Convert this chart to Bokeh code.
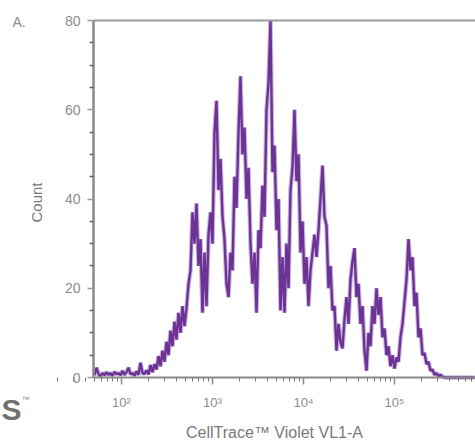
from bokeh.plotting import figure
from bokeh.models import FixedTicker, Range1d, Label, LogAxis
from bokeh.embed import file_html
from bokeh.resources import INLINE
import math

# ---- data ----
# histogram counts, one per channel bin (bins equally spaced in log10 of fluorescence)
first_bin_center = 50.5          # fluorescence at first bin centre
bins_per_decade = 45.5
counts = [
    0.5, 2.2, 0.8, 0.3, 1.0, 0.5, 1.2, 0.6, 1.0, 0.4,
    1.3, 0.7, 1.0, 0.5, 1.5, 0.6, 1.2, 2.2, 0.7, 1.0,
    0.4, 1.4, 0.6, 3.3, 1.0, 0.8, 1.6, 0.7, 2.8, 1.2,
    3.0, 1.8, 4.8, 2.5, 6.0, 3.5, 8.0, 5.0, 10.5, 7.0,
    12.5, 8.5, 14.5, 10.0, 16.0, 11.5, 15.5, 21.0, 24.0, 37.0,
    30.0, 39.0, 25.0, 31.0, 14.5, 28.0, 16.0, 32.0, 37.0, 30.0,
    55.0, 62.0, 42.0, 49.0, 36.0, 31.0, 21.0, 18.0, 28.0, 24.0,
    45.0, 38.0, 55.0, 67.5, 50.0, 56.0, 40.0, 47.0, 30.0, 21.0,
    28.0, 14.5, 33.0, 29.0, 43.0, 36.0, 60.0, 66.0, 80.0, 46.0,
    52.0, 33.0, 40.0, 15.0, 27.0, 14.5, 30.0, 20.0, 42.0, 47.0,
    60.0, 44.0, 50.0, 28.0, 35.0, 21.0, 27.0, 16.0, 24.0, 28.0,
    32.0, 27.0, 33.0, 40.0, 47.5, 36.0, 34.0, 20.0, 25.0, 15.0,
    16.0, 6.0, 12.0, 8.0, 6.5, 13.0, 18.0, 12.0, 22.0, 26.0,
    29.0, 18.0, 21.0, 12.0, 16.0, 6.0, 1.5, 10.0, 7.0, 16.0,
    12.0, 20.0, 14.0, 18.0, 9.0, 11.0, 5.0, 7.0, 2.5, 5.0,
    2.0, 4.5, 3.5, 9.0, 12.0, 17.0, 22.0, 31.0, 24.0, 27.0,
    16.0, 19.0, 9.0, 11.0, 5.0, 5.5, 3.0, 3.5, 1.5, 1.8,
    0.6, 1.0, 0.3, 0.6, 0.2, 0.0, 0.0, 0.0, 0.0, 0.0,
    0.0, 0.0, 0.0, 0.0, 0.0, 0.0, 0.0, 0.0, 0.0, 0.0,
    0.0,
]
x_major = [1e2, 1e3, 1e4, 1e5]
x_major_labels = ["10²", "10³", "10⁴", "10⁵"]
y_major = [0, 20, 40, 60, 80]
y_minor = [5, 10, 15, 25, 30, 35, 45, 50, 55, 65, 70, 75]
x_axis_start = 10 ** 1.6923      # left end of the plotted axis
x_axis_end = 10 ** 5.89
x_title = "CellTrace™ Violet VL1-A"
y_title = "Count"
panel_tag = "A."
logo_text = "S"
logo_mark = "™"

fluor = [10 ** (math.log10(first_bin_center) + i / bins_per_decade) for i in range(len(counts))]
x_minor = [k * 10 ** d for d in range(1, 6) for k in range(2, 10)]

FONT = "'Liberation Sans', sans-serif"

# The frame fills the whole canvas; axes are pinned at fixed locations so that
# every text (also the ones left of / below the axes) can be drawn as a Label.
W, H = 475, 444
AX_L, AX_T, AX_B = 93, 20, 377          # pixel positions of the axes
px_per_decade = 91.0
px_per_count = (AX_B - AX_T) / 80.0
xlo = 10 ** (2 - (121 - 0) / px_per_decade)
xhi = 10 ** (2 + (W - 121) / px_per_decade)
ylo = -(H - AX_B) / px_per_count
yhi = 80 + AX_T / px_per_count

p = figure(width=W, height=H, x_axis_type="log",
           x_range=Range1d(xlo, xhi), y_range=Range1d(ylo, yhi),
           output_backend="svg", toolbar_location=None,
           min_border_left=0, min_border_right=0, min_border_top=0, min_border_bottom=0)
p.grid.visible = False
p.outline_line_color = None
p.background_fill_color = "white"
p.border_fill_color = "white"

# histogram trace
p.line(fluor, counts, line_color="#c4b1dc", line_width=4.6, line_alpha=0.9)
p.line(fluor, counts, line_color="#6c3294", line_width=2.4)

# x axis
xa = p.xaxis[0]
xa.fixed_location = y_major[0]
xa.bounds = (x_axis_start, x_axis_end)
xa.ticker = FixedTicker(ticks=x_major, minor_ticks=x_minor)
xa.major_label_overrides = {float(v): l for v, l in zip(x_major, x_major_labels)}
xa.axis_line_color = "#8a8a8a"
xa.axis_line_width = 2
xa.major_tick_line_color = "#8a8a8a"
xa.major_tick_line_width = 1.5
xa.major_tick_out = 7
xa.major_tick_in = 0
xa.minor_tick_line_color = "#777777"
xa.minor_tick_out = 4
xa.minor_tick_in = 0
xa.major_label_standoff = 10
xa.major_label_text_font = FONT
xa.major_label_text_font_size = "13px"
xa.major_label_text_color = "#8c8c8c"

# y axis
ya = p.yaxis[0]
ya.fixed_location = x_axis_start
ya.bounds = (y_major[0], y_major[-1])
ya.ticker = FixedTicker(ticks=y_major, minor_ticks=y_minor)
ya.axis_line_color = "#8a8a8a"
ya.axis_line_width = 2.5
ya.major_tick_line_color = "#9a9a9a"
ya.major_tick_line_width = 1.5
ya.major_tick_out = 6
ya.major_tick_in = 0
ya.minor_tick_line_color = "#666666"
ya.minor_tick_line_width = 1.5
ya.minor_tick_out = 4
ya.minor_tick_in = 0
ya.major_label_standoff = 7
ya.major_label_text_font = FONT
ya.major_label_text_font_size = "14px"
ya.major_label_text_color = "#8c8c8c"

# top frame line
top = LogAxis(ticker=FixedTicker(ticks=[], minor_ticks=[]), fixed_location=y_major[-1],
              bounds=(x_axis_start, x_axis_end))
top.axis_line_color = "#9a9a9a"
top.axis_line_width = 2
top.major_tick_line_color = None
top.minor_tick_line_color = None
top.major_tick_out = 0
top.major_label_standoff = 0
top.major_label_text_font_size = "0px"
p.add_layout(top, "above")

# texts (screen units: from the canvas' left and bottom)
def lab(text, x, y, **kw):
    base = dict(x_units="screen", y_units="screen", text_font=FONT)
    base.update(kw)
    p.add_layout(Label(x=x, y=y, text=text, **base))

lab(x_title, 274, H - 432, text_align="center", text_baseline="middle",
    text_font_size="16px", text_color="#7a7a7a")
lab(y_title, 36, H - 202, angle=math.pi / 2, text_align="center", text_baseline="middle",
    text_font_size="15px", text_color="#7a7a7a")
lab(panel_tag, 12, H - 13, text_align="left", text_baseline="top",
    text_font_size="14px", text_color="#8a8a8a")
lab(logo_text, 1, H - 392, text_align="left", text_baseline="top",
    text_font_style="bold", text_font_size="30px", text_color="#555555", text_alpha=0.85)
lab(logo_mark, 21, H - 394, text_align="left", text_baseline="top",
    text_font_size="8px", text_color="#888888")

open("out.html", "w").write(file_html(p, INLINE))
